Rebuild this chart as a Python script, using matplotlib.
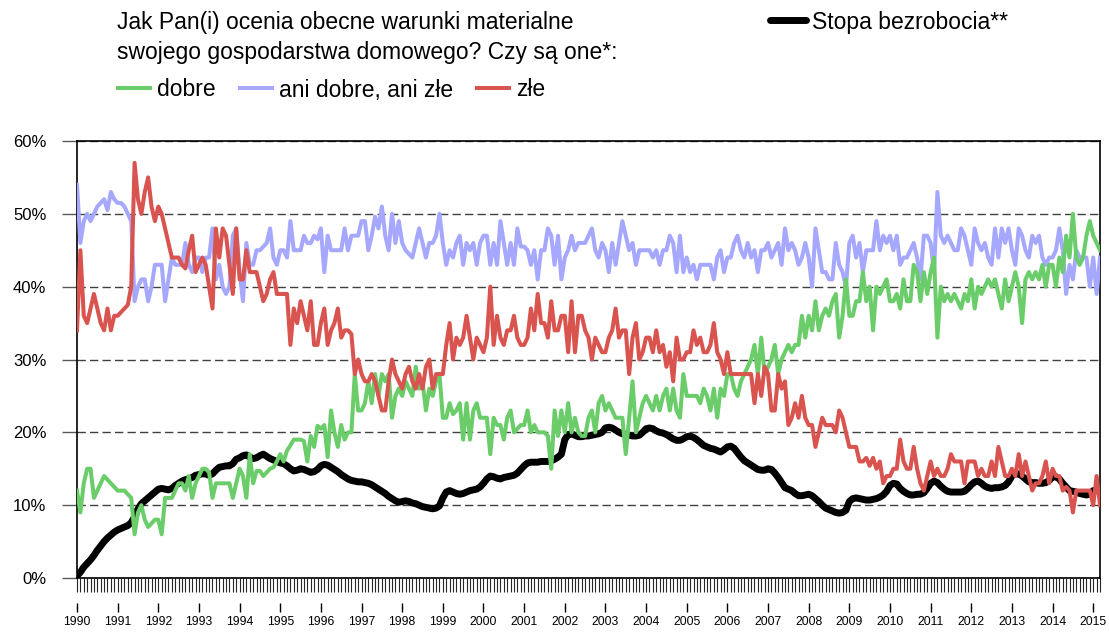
import numpy as np
import matplotlib
matplotlib.use("Agg")
import matplotlib.pyplot as plt

plt.rcParams['font.family'] = ['Liberation Sans', 'DejaVu Sans']

# miesięczne dane od stycznia 1990
start_year = 1990
year_labels = list(range(1990, 2016))

bezrobocie = [
    0.3, 0.8, 1.5, 2.0, 2.5, 3.1, 3.8, 4.4, 5.0, 5.5, 5.9, 6.3,
    6.6, 6.8, 7.0, 7.2, 7.6, 8.4, 9.5, 10.2, 10.6, 11.0, 11.4, 11.8,
    12.2, 12.3, 12.2, 12.1, 12.3, 12.7, 13.0, 13.3, 13.5, 13.6, 13.8, 14.1,
    14.2, 14.3, 14.3, 14.1, 14.3, 14.8, 15.2, 15.3, 15.4, 15.4, 15.7, 16.3,
    16.5, 16.8, 16.9, 16.6, 16.4, 16.5, 16.8, 17.0, 16.7, 16.4, 16.2, 16.0,
    15.8, 15.7, 15.4, 15.0, 14.7, 14.8, 15.0, 14.9, 14.7, 14.5, 14.6, 14.9,
    15.4, 15.6, 15.5, 15.2, 14.9, 14.6, 14.2, 13.9, 13.6, 13.4, 13.3, 13.2,
    13.2, 13.1, 13.0, 12.8, 12.5, 12.2, 11.9, 11.6, 11.2, 10.9, 10.6, 10.4,
    10.5, 10.6, 10.5, 10.3, 10.2, 10.0, 9.8, 9.7, 9.6, 9.5, 9.6, 9.9,
    11.0, 11.8, 12.0, 11.8, 11.6, 11.5, 11.6, 11.8, 12.0, 12.1, 12.2, 12.5,
    13.0, 13.6, 14.0, 13.9, 13.7, 13.6, 13.8, 13.9, 14.0, 14.1, 14.4, 14.9,
    15.4, 15.8, 15.9, 15.9, 15.9, 16.0, 16.0, 16.0, 16.1, 16.3, 16.6, 17.0,
    19.0, 19.7, 19.8, 19.6, 19.4, 19.4, 19.5, 19.5, 19.6, 19.7, 19.8, 20.0,
    20.6, 20.7, 20.6, 20.3, 20.0, 19.8, 19.7, 19.6, 19.5, 19.5, 19.6, 20.0,
    20.5, 20.6, 20.5, 20.2, 20.0, 19.9, 19.7, 19.4, 19.1, 18.9, 18.9, 19.1,
    19.4, 19.5, 19.3, 19.0, 18.6, 18.2, 18.0, 17.8, 17.7, 17.5, 17.3, 17.6,
    18.0, 18.1, 17.8, 17.2, 16.6, 16.1, 15.8, 15.5, 15.2, 14.9, 14.8, 14.8,
    15.0, 14.9, 14.4, 13.8, 13.1, 12.4, 12.2, 12.0, 11.6, 11.3, 11.3, 11.4,
    11.5, 11.3, 10.9, 10.5, 10.0, 9.6, 9.4, 9.2, 9.0, 8.9, 9.0, 9.3,
    10.5, 10.9, 11.0, 10.9, 10.8, 10.7, 10.7, 10.8, 10.9, 11.1, 11.4, 11.9,
    12.7, 13.0, 12.9, 12.3, 11.9, 11.6, 11.4, 11.4, 11.5, 11.5, 11.7, 12.3,
    13.0, 13.3, 13.1, 12.6, 12.2, 11.9, 11.8, 11.8, 11.8, 11.8, 11.9, 12.3,
    12.8, 13.2, 13.3, 13.0, 12.6, 12.4, 12.3, 12.4, 12.4, 12.5, 12.7, 13.2,
    14.0, 14.3, 14.3, 14.0, 13.6, 13.2, 13.1, 13.1, 13.0, 13.0, 13.1, 13.4,
    13.9, 13.9, 13.6, 13.0, 12.5, 12.0, 11.9, 11.8, 11.6, 11.5, 11.4, 11.5,
    12.0, 12.0,
]

zle = [
    34, 45, 36, 35, 37, 39, 37, 35, 34, 37, 34, 36,
    36, 36.5, 37, 37.5, 40, 57, 52, 50, 53, 55, 51, 49,
    51, 50, 48, 46, 44, 44, 44, 43, 42.5, 45, 47, 42,
    43, 44, 43, 40, 37, 48, 44, 48, 47, 43, 39, 48,
    41, 41, 45, 42, 42, 42, 40, 38, 39, 41, 42, 39,
    39, 39, 39, 32, 37, 35, 38, 36, 34, 38, 32, 32,
    35, 37, 32, 34, 35, 37, 33, 34, 34, 33.5, 28, 30,
    28, 27, 27, 28, 27, 25, 23, 23, 27, 30, 28, 27,
    26, 28, 29, 27, 26, 28, 26, 29, 30, 26, 28, 28,
    28, 32, 35, 30, 33, 32, 33, 36, 33, 30, 33, 32,
    31, 33, 40, 32, 36, 33, 32, 34, 34, 36, 33, 32,
    32, 33, 37, 34, 39, 35, 35, 33, 38, 34, 34, 36,
    36, 31, 38, 31, 36, 36, 34, 33, 30, 33, 32, 31,
    31, 33, 34, 37, 33, 34, 34, 28, 33, 35, 30, 31,
    33, 33, 31, 34, 31, 32, 29, 31, 27, 33, 30, 30,
    31, 31, 34, 32, 33, 31, 31, 32, 35, 31, 30, 28,
    31, 28, 28, 28, 28, 28, 28, 28, 24, 28, 25, 29,
    28, 23, 23, 28, 26, 27, 21, 22, 24, 22, 25, 22,
    21, 21, 18, 20, 22, 21, 21, 21, 20, 23, 22, 20,
    18, 18, 18, 16, 16, 16.5, 15.4, 16.5, 15, 16, 13, 14,
    14, 15, 15, 19, 16, 15, 15, 18, 15, 13, 12, 14,
    16, 14, 15, 14, 14, 15, 17, 16, 16, 16, 13, 16,
    16, 16, 14, 15, 14, 14, 16, 14, 18, 16, 14, 14,
    15, 14, 17, 14, 16, 14, 12, 13, 13, 14, 16, 13,
    15, 14, 14, 12, 12.5, 12, 9, 12, 12, 12, 12, 12,
    10, 14, 10,
]

ani_ani = [
    54, 46, 49, 50, 49, 50, 51, 51.5, 52, 50.5, 53, 52,
    51.5, 51.5, 51, 50, 49, 38, 40, 41, 41, 38, 40, 43,
    43, 43, 38, 41, 44, 43, 43, 43, 46, 43, 42, 44,
    44, 42, 44, 44, 48, 41, 43, 40, 39, 40, 47, 48,
    42, 38, 46, 43, 43, 45, 45, 45.5, 46, 48, 44, 43,
    45, 45, 44, 49, 45, 45, 45, 47, 46, 46, 47, 46.5,
    48, 42, 47, 45, 45, 45, 45, 48, 45, 47, 47, 47,
    49, 49, 45, 47, 49.6, 48, 51, 47, 45, 50, 46, 49,
    46, 45, 44.5, 44, 46, 48, 46, 44, 46, 46, 47, 50,
    46, 43, 45, 44, 46, 47, 43, 46, 45, 46, 43, 46,
    47, 47, 43, 46, 43, 49, 46, 43, 46, 43, 48, 45.5,
    45.5, 45, 43, 45, 41, 45, 45, 48, 47, 43, 47, 41,
    44, 45, 47, 45, 46, 46, 46, 47, 48, 45, 44, 46,
    45, 42, 46, 43, 46, 49, 47, 45, 46, 43, 45, 45,
    45, 45, 44, 45, 43, 45, 45, 47, 46, 42, 47, 42,
    44, 42, 43, 41, 43, 43, 43, 43, 41, 44, 45, 42,
    44, 44, 46, 47, 45, 44, 46, 44, 45, 42, 45, 45,
    46, 44, 45, 46, 43, 48, 45, 46, 45, 43, 44, 46,
    44, 40, 48, 45, 42, 42, 41, 41, 46, 43, 42, 40,
    46, 47, 44, 46, 42, 45, 45, 45, 49, 45, 47, 46,
    47, 45, 47, 43, 44, 44, 45, 46, 44, 41, 47, 47,
    46, 42, 53, 47, 46, 47, 46, 45, 45, 48, 47, 45,
    43, 48, 46, 45, 46, 44, 43, 48, 44, 48, 46, 48,
    45, 43, 48, 47, 45, 44, 47, 46, 47, 44, 43, 44,
    44, 45, 48, 45, 39, 43, 41, 45, 44, 44, 44, 40,
    44, 39, 44,
]

dobre = [
    12, 9, 13, 15, 15, 11, 12, 13, 14, 13.5, 13, 12.5,
    12, 12, 12, 11.5, 11, 6, 9, 10, 8, 7, 7.5, 8,
    8, 6, 11, 11, 11, 12, 13, 13, 12, 14, 11, 13,
    14, 15, 15, 14.5, 11, 13, 13, 13, 13, 13, 11, 13,
    15, 14, 11, 17, 13, 14.7, 14.7, 14, 14.5, 15, 15.2, 16,
    17, 16, 17.5, 18.2, 19, 19, 19, 18.8, 16, 19.5, 18, 20.9,
    20.5, 21, 16.6, 23, 20, 18, 21, 19, 20, 20, 28, 23,
    23, 24, 27, 24, 28, 25, 28, 27, 28, 22, 25, 26,
    25, 27, 26, 25, 29, 26, 27, 23, 26, 25, 27, 28,
    22, 22, 24, 22.5, 23, 24, 19, 24, 19, 23, 24, 22,
    22, 22, 17, 22, 21, 21, 19, 22, 23, 20, 20.5, 21,
    21, 23, 20, 21, 20, 20, 20, 19.5, 15, 23, 19.5, 23,
    20, 24, 20, 22, 20, 19.5, 19.5, 22, 23, 20, 24, 25,
    23, 24, 23, 22, 22, 22, 17, 22, 27, 20, 22, 24,
    25, 24, 23, 25, 23, 25, 26, 23, 26, 23, 22, 28,
    25, 25, 25, 25, 24, 26, 25, 23, 26, 22, 26, 25,
    28, 28, 26, 25, 27, 28, 29, 30, 32, 28, 33, 28,
    29, 30, 32, 28, 30, 31, 32, 31, 32, 32, 36, 33,
    36, 34, 38, 34, 36, 37, 36, 38, 39, 33, 36, 41,
    36, 36, 38, 38, 42, 38, 40, 34, 40, 39, 40, 41,
    38, 38, 39, 37, 41, 38, 38, 43, 42, 38, 42, 39,
    42, 44, 33, 40, 38, 39, 38, 39, 38, 37, 39, 38,
    41, 37, 40, 39, 40, 41, 40, 41, 39, 37, 41, 38,
    40, 42, 40, 35, 41, 42, 41, 42, 41, 43, 40, 43,
    43, 40, 44, 42, 47, 44, 50, 44, 43, 44, 47, 49,
    47, 46, 45,
]

kolory = {
    'dobre': '#6acd6a',
    'ani': '#a6a8ff',
    'zle': '#d9534f',
    'bezrobocie': '#000000',
}


def miesiace(n):
    return start_year + np.arange(n) / 12.0


def main():
    fig = plt.figure(figsize=(11.09, 6.32), dpi=100)
    ax = fig.add_axes([77 / 1109, 1 - 578 / 632, (1100 - 77) / 1109, (578 - 141) / 632])

    # linie
    l_bez, = ax.plot(miesiace(len(bezrobocie)), bezrobocie, color=kolory['bezrobocie'],
                     lw=5.0, solid_capstyle='round', zorder=3)
    l_ani, = ax.plot(miesiace(len(ani_ani)), ani_ani, color=kolory['ani'], lw=2.9, zorder=4)
    l_dob, = ax.plot(miesiace(len(dobre)), dobre, color=kolory['dobre'], lw=2.9, zorder=5)
    l_zle, = ax.plot(miesiace(len(zle)), zle, color=kolory['zle'], lw=2.9, zorder=6)

    # osie
    x_max = start_year + 302 / 12.0
    ax.set_xlim(start_year, x_max)
    ax.set_ylim(0, 60)

    ax.set_yticks(range(0, 61, 10))
    ax.set_yticklabels([f'{v}%' for v in range(0, 61, 10)])
    ax.tick_params(axis='y', length=11, width=1, color='0.35', labelsize=12, pad=11)
    ax.yaxis.grid(True, linestyle=(0, (6, 3)), color='0.25', lw=1)

    # krótkie kreski co miesiąc
    ax.set_xticks(miesiace(303))
    ax.tick_params(axis='x', length=10, width=0.8, color='0.15', labelbottom=False)

    for s in ax.spines.values():
        s.set_linewidth(1.2)
        s.set_color('black')

    # lata pod spodem
    sec = ax.secondary_xaxis(-25 / 437)
    sec.set_xticks(year_labels)
    sec.set_xticklabels([str(y) for y in year_labels])
    sec.tick_params(axis='x', length=6.5, width=1, color='black', labelsize=8.7, pad=3)
    sec.spines['bottom'].set_visible(False)

    # tytuł i legenda
    fig.text(117 / 1109, 1 - 22 / 632, 'Jak Pan(i) ocenia obecne warunki materialne',
             fontsize=16.5, va='center', ha='left')
    fig.text(117 / 1109, 1 - 52 / 632, 'swojego gospodarstwa domowego? Czy są one*:',
             fontsize=16.5, va='center', ha='left')

    fig.legend([l_dob, l_ani, l_zle], ['dobre', 'ani dobre, ani złe', 'złe'],
               loc='center left', bbox_to_anchor=(118 / 1109, 1 - 90 / 632),
               ncol=3, frameon=False, fontsize=16.5, borderpad=0, borderaxespad=0,
               handlelength=1.4, handletextpad=0.3, columnspacing=1.05)
    fig.legend([l_bez], ['Stopa bezrobocia**'],
               loc='center left', bbox_to_anchor=(770 / 1109, 1 - 22 / 632),
               frameon=False, fontsize=16.5, borderpad=0, borderaxespad=0,
               handlelength=1.55, handletextpad=0.3)

    fig.savefig('out.png', dpi=100)
    plt.close(fig)


if __name__ == '__main__':
    main()
